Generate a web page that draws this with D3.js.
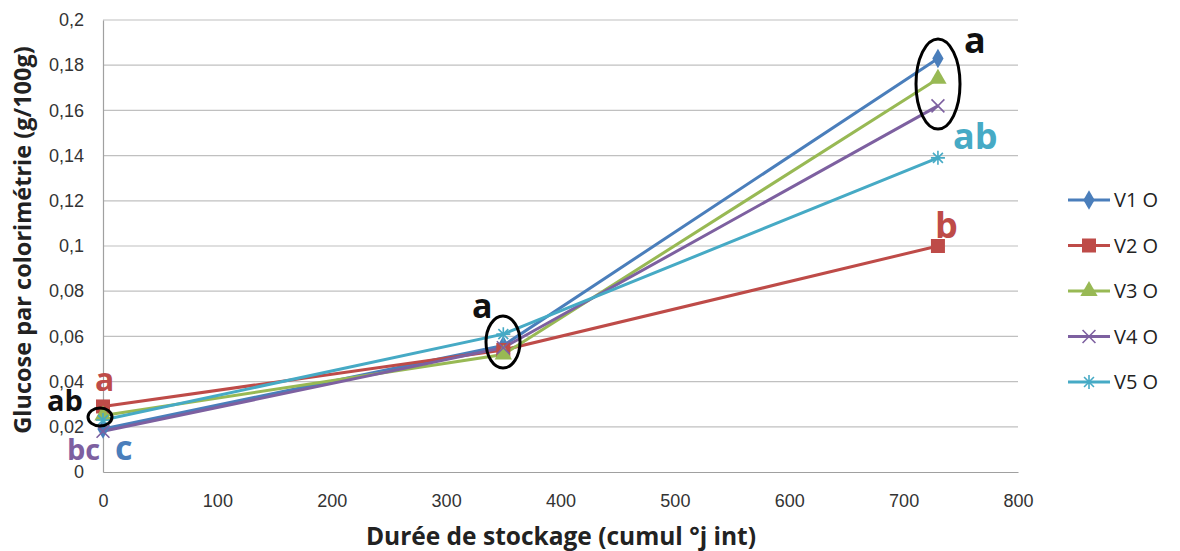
<!DOCTYPE html>
<html>
<head>
<meta charset="utf-8">
<script src="https://cdn.jsdelivr.net/npm/d3@7"></script>
<style>
  body { margin: 0; background: #fff; }
  .axis-title { font-family: "Open Sans", "Noto Sans", sans-serif; font-weight: bold; fill: #222; }
  .legend text { font-family: "Open Sans", "Noto Sans", sans-serif; font-size: 20px; fill: #222; }
  .note { font-family: "Open Sans", "Noto Sans", sans-serif; font-weight: bold; }
</style>
</head>
<body>
<div id="chart"></div>
<script>
// data
const xValues = [0, 350, 730];
const seriesNames = ['V1 O', 'V2 O', 'V3 O', 'V4 O', 'V5 O'];
const v1 = [0.019, 0.056, 0.183];
const v2 = [0.029, 0.054, 0.100];
const v3 = [0.025, 0.052, 0.174];
const v4 = [0.018, 0.055, 0.162];
const v5 = [0.023, 0.061, 0.139];
const yTicks = [0, 0.02, 0.04, 0.06, 0.08, 0.1, 0.12, 0.14, 0.16, 0.18, 0.2];
const xTicks = [0, 100, 200, 300, 400, 500, 600, 700, 800];

const colors = ['#4a7ebb', '#be4b48', '#98b954', '#7d60a0', '#46aac5'];
const series = [v1, v2, v3, v4, v5];

const width = 1180, height = 551;
const margin = { top: 20, right: 162, bottom: 79, left: 103 };
const w = width - margin.left - margin.right;
const h = height - margin.top - margin.bottom;

const svg = d3.select('#chart').append('svg')
  .attr('width', width)
  .attr('height', height);

const g = svg.append('g')
  .attr('transform', `translate(${margin.left},${margin.top})`);

const x = d3.scaleLinear().domain([0, 800]).range([0, w]);
const y = d3.scaleLinear().domain([0, 0.2]).range([h, 0]);

const fmt = d => String(d).replace('.', ',');

// gridlines
g.selectAll('.grid')
  .data(yTicks.slice(1))
  .enter().append('line')
  .attr('x1', 0).attr('x2', w)
  .attr('y1', d => y(d)).attr('y2', d => y(d))
  .attr('stroke', '#c0c0c0').attr('stroke-width', 1.2);

// axes
const yAxis = g.append('g')
  .attr('font-size', 18)
  .call(d3.axisLeft(y).tickValues(yTicks).tickFormat(fmt).tickSize(0).tickPadding(19));
yAxis.select('.domain').attr('stroke', '#a0a0a0').attr('stroke-width', 1.2);

const xAxis = g.append('g')
  .attr('transform', `translate(0,${h})`)
  .call(d3.axisBottom(x).tickValues(xTicks).tickSize(0).tickPadding(22));
xAxis.select('.domain').attr('stroke', '#a0a0a0').attr('stroke-width', 1.2);

[xAxis, yAxis].forEach(a => {
  a.attr('font-size', 18).attr('font-family', '"Liberation Sans", Arial, sans-serif');
  a.selectAll('text')
    .style('font-family', '"Liberation Sans", Arial, sans-serif')
    .style('font-size', '18px')
    .style('fill', '#333');
});

// axis titles
svg.append('text')
  .attr('class', 'axis-title')
  .attr('text-anchor', 'middle')
  .style('font-size', '24.5px')
  .attr('x', 561).attr('y', 545)
  .text('Durée de stockage (cumul °j int)');

svg.append('text')
  .attr('class', 'axis-title')
  .attr('text-anchor', 'middle')
  .style('font-size', '23.5px')
  .attr('transform', 'translate(31,240) rotate(-90)')
  .text('Glucose par colorimétrie (g/100g)');

// lines
const line = d3.line().x((d, i) => x(xValues[i])).y(d => y(d));

series.forEach((s, i) => {
  g.append('path')
    .datum(s)
    .attr('fill', 'none')
    .attr('stroke', colors[i])
    .attr('stroke-width', 3)
    .attr('d', line);
});

// markers
function marker(sel, i, cx, cy) {
  const c = colors[i];
  if (i === 0) {
    sel.append('path').attr('d', d3.symbol(d3.symbolDiamond, 110)())
      .attr('transform', `translate(${cx},${cy})`).attr('fill', c);
  } else if (i === 1) {
    sel.append('rect').attr('x', cx - 7).attr('y', cy - 7)
      .attr('width', 14).attr('height', 14).attr('fill', c);
  } else if (i === 2) {
    sel.append('path').attr('d', d3.symbol(d3.symbolTriangle, 130)())
      .attr('transform', `translate(${cx},${cy})`).attr('fill', c);
  } else if (i === 3) {
    sel.append('path').attr('d', d3.symbol(d3.symbolTimes, 110)())
      .attr('transform', `translate(${cx},${cy})`)
      .attr('fill', 'none').attr('stroke', c).attr('stroke-width', 1.6);
  } else {
    const r = 7;
    const p = d3.range(4).map(k => {
      const a = k * Math.PI / 4;
      return `M${cx - r * Math.cos(a)},${cy - r * Math.sin(a)}L${cx + r * Math.cos(a)},${cy + r * Math.sin(a)}`;
    }).join('');
    sel.append('path').attr('d', p).attr('stroke', c).attr('stroke-width', 1.6);
  }
}

series.forEach((s, i) => {
  s.forEach((v, j) => marker(g, i, x(xValues[j]), y(v)));
});

// legend
const legend = svg.append('g').attr('class', 'legend');
seriesNames.forEach((name, i) => {
  const ly = 200 + i * 45.5;
  legend.append('line')
    .attr('x1', 1068).attr('x2', 1110)
    .attr('y1', ly).attr('y2', ly)
    .attr('stroke', colors[i]).attr('stroke-width', 3);
  marker(legend, i, 1089, ly);
  legend.append('text')
    .attr('x', 1114).attr('y', ly + 7)
    .text(name);
});

// significance letters
const notes = [
  { t: 'a', x: 964, y: 53, c: '#111', s: 36 },
  { t: 'ab', x: 953, y: 149, c: '#46aac5', s: 36 },
  { t: 'b', x: 935, y: 238, c: '#be4b48', s: 36 },
  { t: 'a', x: 472, y: 318, c: '#111', s: 34 },
  { t: 'a', x: 95, y: 391, c: '#be4b48', s: 32 },
  { t: 'ab', x: 47, y: 411, c: '#111', s: 29 },
  { t: 'bc', x: 67, y: 460, c: '#7d60a0', s: 29 },
  { t: 'c', x: 115, y: 460, c: '#4a7ebb', s: 34 }
];
svg.selectAll('.note')
  .data(notes)
  .enter().append('text')
  .attr('class', 'note')
  .attr('x', d => d.x).attr('y', d => d.y)
  .attr('fill', d => d.c)
  .style('font-size', d => d.s + 'px')
  .text(d => d.t);

// circles around groups
const rings = [
  { cx: 938, cy: 84, rx: 22, ry: 45 },
  { cx: 503, cy: 342, rx: 17, ry: 26 },
  { cx: 100, cy: 417, rx: 12, ry: 9 }
];
svg.selectAll('.ring')
  .data(rings)
  .enter().append('ellipse')
  .attr('cx', d => d.cx).attr('cy', d => d.cy)
  .attr('rx', d => d.rx).attr('ry', d => d.ry)
  .attr('fill', 'none').attr('stroke', '#000').attr('stroke-width', 3);
</script>
</body>
</html>
